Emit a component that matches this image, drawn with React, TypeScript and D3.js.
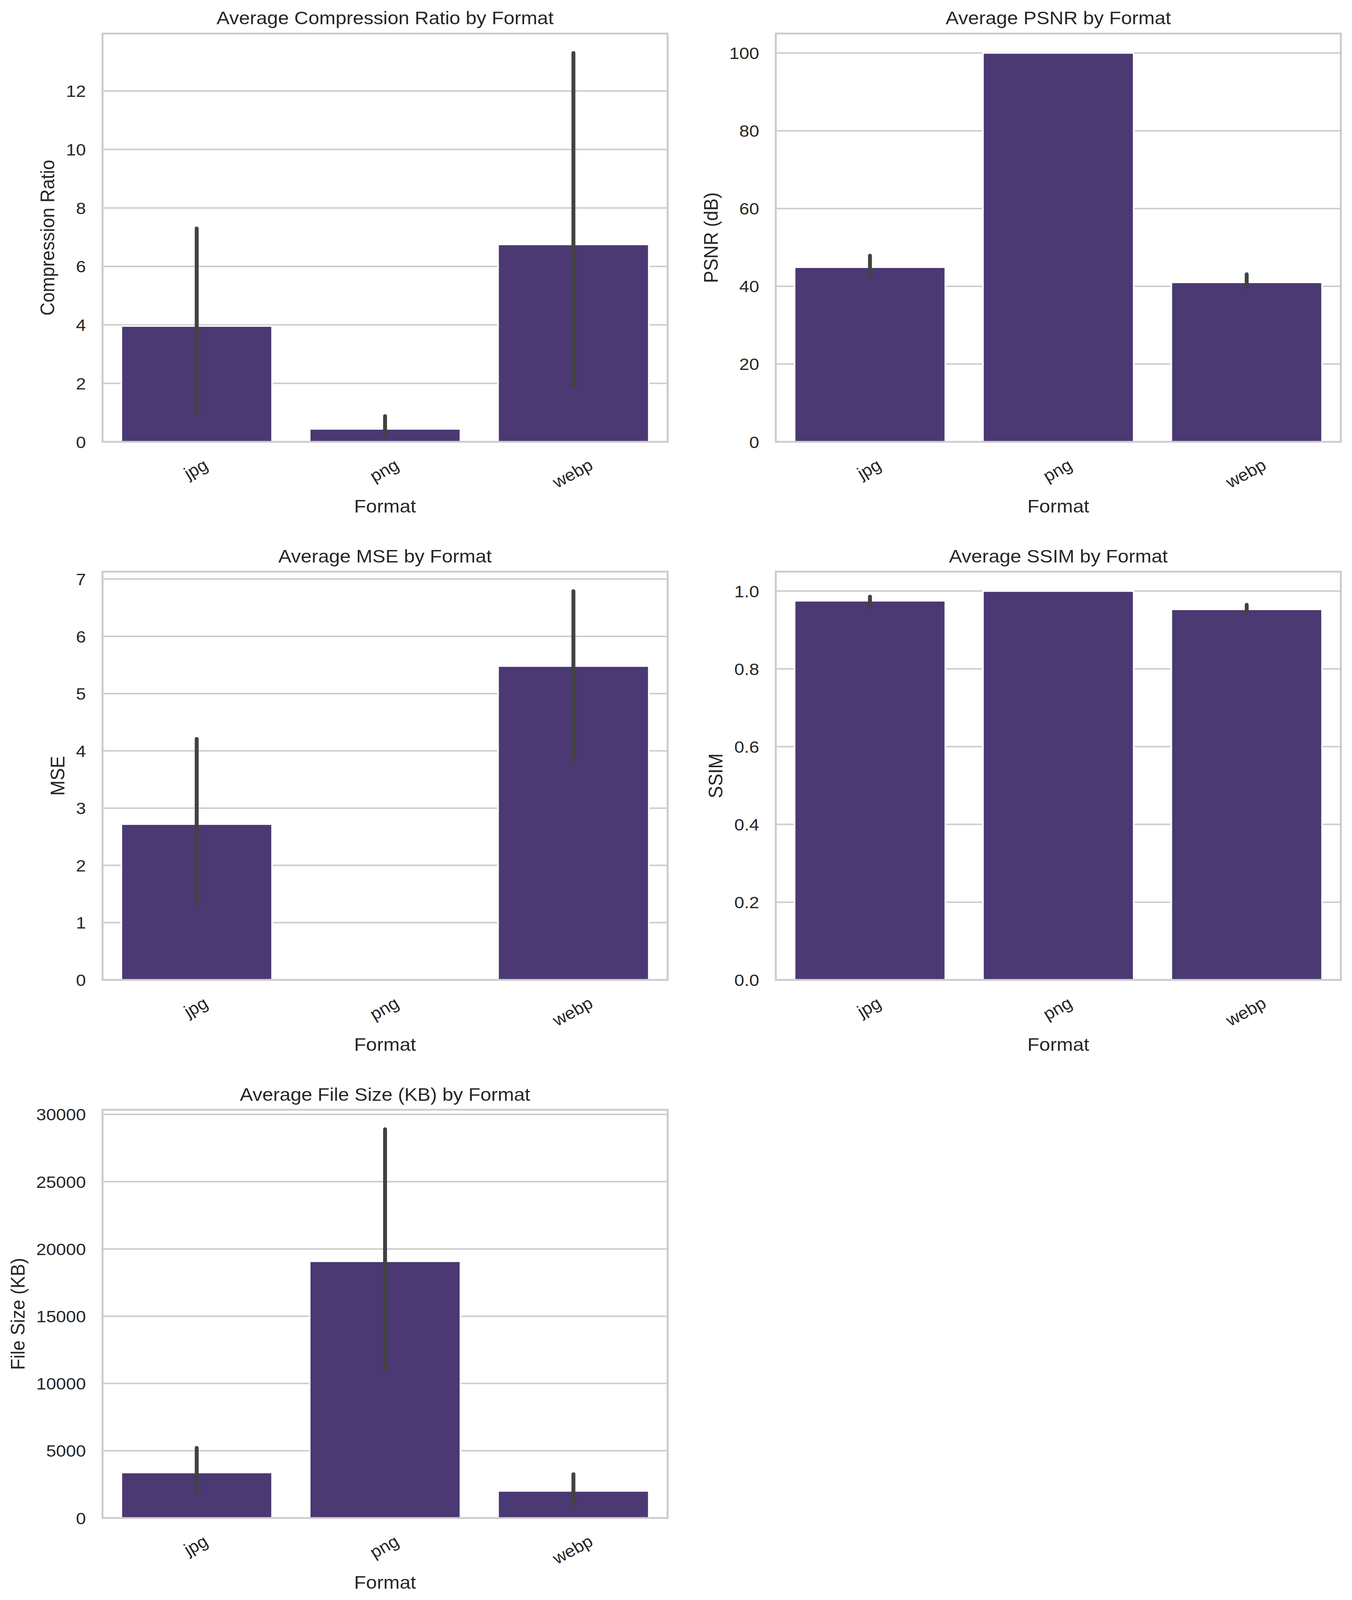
import React from "react";
import * as d3 from "d3";

// ---------- data ----------
const formats = ["jpg", "png", "webp"];

const compressionMean = [3.96, 0.44, 6.75];
const compressionLo = [1.0, 0.21, 1.9];
const compressionHi = [7.3, 0.88, 13.3];

const psnrMean = [44.9, 100, 41.0];
const psnrLo = [42.6, 100, 39.9];
const psnrHi = [47.9, 100, 43.1];

const mseMean = [2.72, 0, 5.48];
const mseLo = [1.32, 0, 3.84];
const mseHi = [4.21, 0, 6.79];

const ssimMean = [0.975, 1.0, 0.953];
const ssimLo = [0.96, 1.0, 0.943];
const ssimHi = [0.986, 1.0, 0.965];

const sizeMean = [3380, 19080, 2010];
const sizeLo = [1890, 11000, 1030];
const sizeHi = [5220, 28900, 3260];

const titles = [
  "Average Compression Ratio by Format",
  "Average PSNR by Format",
  "Average MSE by Format",
  "Average SSIM by Format",
  "Average File Size (KB) by Format",
];
const yLabels = ["Compression Ratio", "PSNR (dB)", "MSE", "SSIM", "File Size (KB)"];
const xLabel = "Format";

// ---------- styling / layout ----------
const W = 3462;
const H = 4362;
const FONT = "'Liberation Sans', Arial, 'DejaVu Sans', sans-serif";
const TEXT = "#262626";
const GRID = "#cccccc";
const BAR = "#4a3972";
const ERR = "#424242";
const colLeft = [262.5, 1986.5];
const rowTop = [91.5, 1558.5, 3025.5];
const axW = 1447;
const axH = 1113;
const TICK_FS = 45.8;
const LABEL_FS = 50;

let ctx: CanvasRenderingContext2D | null = null;
function textWidth(s: string, size: number) {
  if (!ctx) {
    const c = document.createElement("canvas");
    ctx = c.getContext("2d");
  }
  if (!ctx) return s.length * size * 0.55;
  ctx.font = `${size}px ${FONT}`;
  return ctx.measureText(s).width;
}

type PanelDef = {
  title: string;
  ylabel: string;
  mean: number[];
  lo: number[];
  hi: number[];
  row: number;
  col: number;
  tickCount: number;
  fmt: (v: number) => string;
};

const panels: PanelDef[] = [
  { title: titles[0], ylabel: yLabels[0], mean: compressionMean, lo: compressionLo, hi: compressionHi, row: 0, col: 0, tickCount: 7, fmt: d3.format("d") },
  { title: titles[1], ylabel: yLabels[1], mean: psnrMean, lo: psnrLo, hi: psnrHi, row: 0, col: 1, tickCount: 6, fmt: d3.format("d") },
  { title: titles[2], ylabel: yLabels[2], mean: mseMean, lo: mseLo, hi: mseHi, row: 1, col: 0, tickCount: 8, fmt: d3.format("d") },
  { title: titles[3], ylabel: yLabels[3], mean: ssimMean, lo: ssimLo, hi: ssimHi, row: 1, col: 1, tickCount: 6, fmt: d3.format(".1f") },
  { title: titles[4], ylabel: yLabels[4], mean: sizeMean, lo: sizeLo, hi: sizeHi, row: 2, col: 0, tickCount: 7, fmt: d3.format("d") },
];

function Panel({ p }: { p: PanelDef }) {
  const left = colLeft[p.col];
  const top = rowTop[p.row];
  const right = left + axW;
  const bottom = top + axH;
  const x = d3
    .scaleBand<string>()
    .domain(formats)
    .range([left, right])
    .paddingInner(0.2)
    .paddingOuter(0.1);
  const ymax = 1.05 * (d3.max([...p.mean, ...p.hi]) as number);
  const y = d3.scaleLinear().domain([0, ymax]).range([bottom, top]);
  const ticks = y.ticks(p.tickCount).filter((t) => t <= ymax + 1e-9);
  const tickLabels = ticks.map(p.fmt);
  const maxTickW = d3.max(tickLabels, (s) => textWidth(s, TICK_FS)) as number;
  const ylabelX = left - 42.5 - maxTickW - 30;
  const sin30 = Math.sin(Math.PI / 6);
  const cos30 = Math.cos(Math.PI / 6);
  const boxH = 0.93 * TICK_FS;

  return (
    <g>
      {ticks.map((t, i) => (
        <line key={"g" + i} x1={left} x2={right} y1={y(t)} y2={y(t)} stroke={GRID} strokeWidth={4} />
      ))}
      {formats.map((f, i) => (
        <rect
          key={"b" + f}
          x={x(f)}
          y={y(p.mean[i])}
          width={x.bandwidth()}
          height={Math.max(0, bottom - y(p.mean[i]))}
          fill={BAR}
          stroke={p.mean[i] > 0 ? "#ffffff" : "none"}
          strokeWidth={4}
        />
      ))}
      {formats.map((f, i) =>
        p.hi[i] - p.lo[i] > 0 ? (
          <line
            key={"e" + f}
            x1={(x(f) as number) + x.bandwidth() / 2}
            x2={(x(f) as number) + x.bandwidth() / 2}
            y1={y(p.lo[i])}
            y2={y(p.hi[i])}
            stroke={ERR}
            strokeWidth={10}
            strokeLinecap="round"
          />
        ) : null
      )}
      <rect x={left} y={top} width={axW} height={axH} fill="none" stroke={GRID} strokeWidth={5} />
      {ticks.map((t, i) => (
        <text key={"yt" + i} x={left - 42.5} y={y(t) + 16.5} textAnchor="end" fontSize={TICK_FS} fill={TEXT} fontFamily={FONT}>
          {tickLabels[i]}
        </text>
      ))}
      {formats.map((f) => {
        const w = textWidth(f, TICK_FS);
        const bh = w * sin30 + boxH * cos30;
        const cx = (x(f) as number) + x.bandwidth() / 2;
        const cy = bottom + 44 + bh / 2;
        return (
          <g key={"xt" + f} transform={`translate(${cx},${cy}) rotate(-30)`}>
            <text x={0} y={0.253 * TICK_FS} textAnchor="middle" fontSize={TICK_FS} fill={TEXT} fontFamily={FONT}>
              {f}
            </text>
          </g>
        );
      })}
      <text x={(left + right) / 2} y={bottom + 193} textAnchor="middle" fontSize={LABEL_FS} fill={TEXT} fontFamily={FONT}>
        {xLabel}
      </text>
      <text
        transform={`translate(${ylabelX},${(top + bottom) / 2}) rotate(-90)`}
        textAnchor="middle"
        fontSize={LABEL_FS}
        fill={TEXT}
        fontFamily={FONT}
      >
        {p.ylabel}
      </text>
      <text x={(left + right) / 2} y={top - 25} textAnchor="middle" fontSize={LABEL_FS} fill={TEXT} fontFamily={FONT}>
        {p.title}
      </text>
    </g>
  );
}

export default function App() {
  return (
    <>
      <style>{`html,body{margin:0;padding:0;background:#fff;overflow:hidden;}`}</style>
      <svg
        viewBox={`0 0 ${W} ${H}`}
        preserveAspectRatio="none"
        style={{ display: "block", width: "100vw", height: "100vh" }}
      >
        <rect x={0} y={0} width={W} height={H} fill="#ffffff" />
        {panels.map((p, i) => (
          <Panel key={i} p={p} />
        ))}
      </svg>
    </>
  );
}
